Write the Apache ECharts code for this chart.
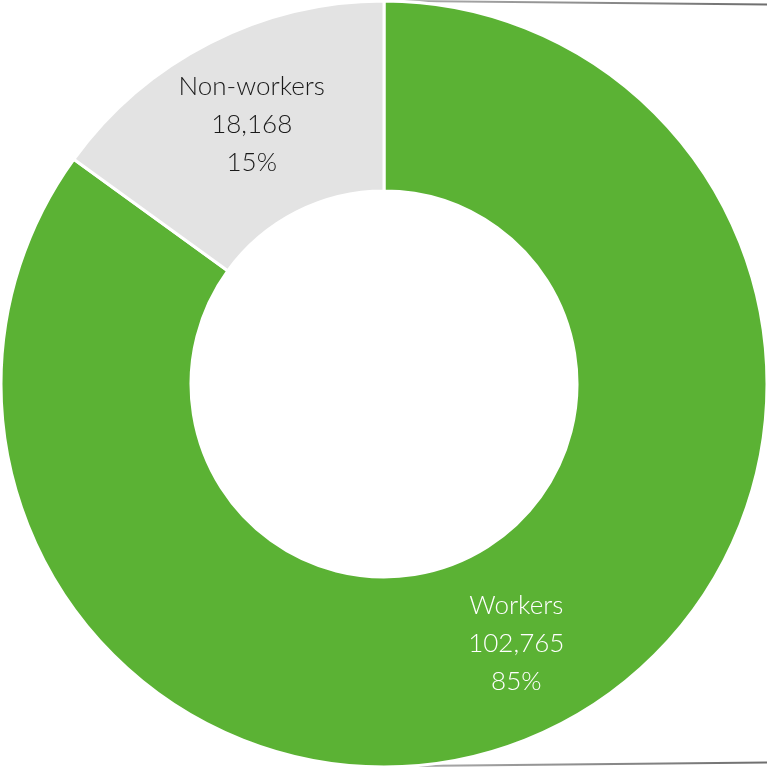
<!DOCTYPE html>
<html>
<head>
<meta charset="utf-8">
<style>
  html, body { margin: 0; padding: 0; background: #ffffff; }
  #chart { width: 767px; height: 767px; }
</style>
<script src="https://cdn.jsdelivr.net/npm/echarts@6/dist/echarts.min.js"></script>
</head>
<body>
<div id="chart"></div>
<script>
// Workforce split
const categories = ['Workers', 'Non-workers'];
const counts = [102765, 18168];
const shares = ['85%', '15%'];
const sliceColors = ['#5BB234', '#E3E3E3'];
const labelColors = ['#ffffff', '#1a1a1a'];

const chart = echarts.init(document.getElementById('chart'));

const data = categories.map((name, i) => ({
  name: name,
  value: counts[i],
  itemStyle: { color: sliceColors[i] },
  label: { color: labelColors[i] }
}));

const connectorStroke = () => new echarts.graphic.LinearGradient(0, 0, 1, 0, [
  { offset: 0, color: '#b0b0b0' },
  { offset: 1, color: '#6e6e6e' }
]);

chart.setOption({
  animation: false,
  graphic: [
    // connector lines leading off to the right
    {
      type: 'line',
      shape: { x1: 386, y1: 0.8, x2: 767, y2: 4.5 },
      style: { lineWidth: 2, stroke: connectorStroke() }
    },
    {
      type: 'line',
      shape: { x1: 384, y1: 766.3, x2: 767, y2: 762.5 },
      style: { lineWidth: 2, stroke: connectorStroke() }
    }
  ],
  series: [{
    type: 'pie',
    center: [384, 384],
    radius: [193, 383],
    startAngle: 90,
    clockwise: true,
    avoidLabelOverlap: false,
    itemStyle: { borderColor: '#ffffff', borderWidth: 3 },
    label: {
      show: true,
      position: 'inside',
      fontFamily: 'Lato, "Noto Sans", sans-serif',
      fontWeight: 300,
      fontSize: 26,
      lineHeight: 38,
      align: 'center',
      formatter: p => p.name + '\n' + counts[p.dataIndex].toLocaleString('en-US') + '\n' + shares[p.dataIndex]
    },
    labelLine: { show: false },
    emphasis: { disabled: true },
    data: data
  }]
});
</script>
</body>
</html>
